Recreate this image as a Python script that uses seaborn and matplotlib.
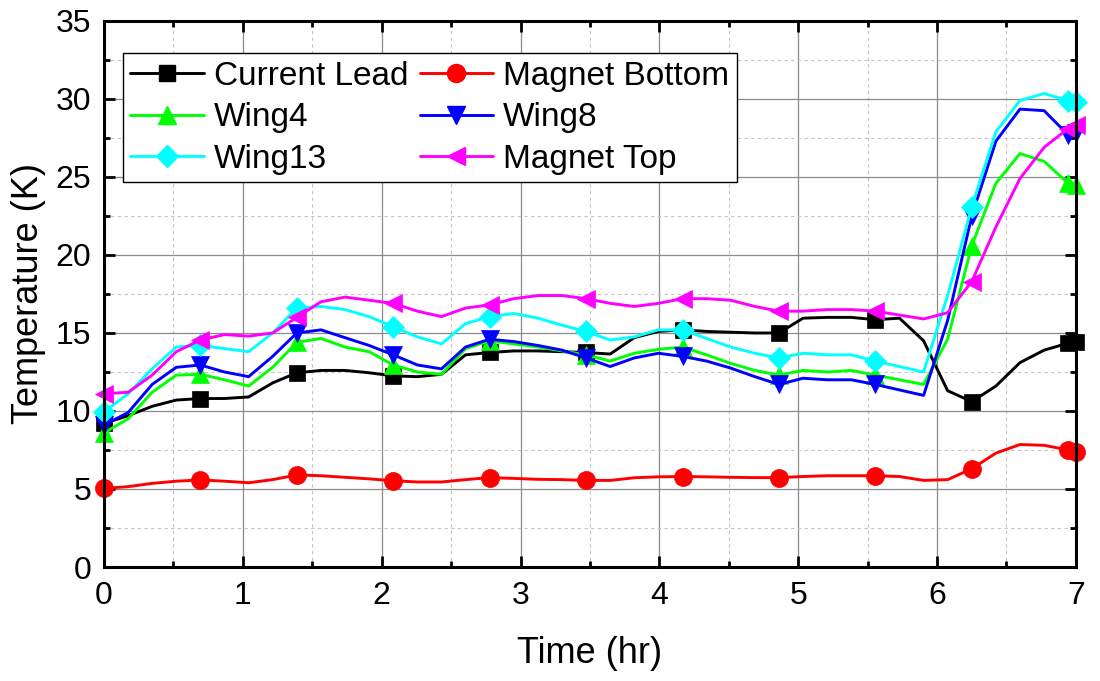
import matplotlib
matplotlib.use("Agg")
import matplotlib.pyplot as plt
from matplotlib.lines import Line2D
from matplotlib.ticker import MultipleLocator
import seaborn as sns
import pandas as pd

# ---------------- data ----------------
time_hr = [0.000, 0.174, 0.347, 0.521, 0.694, 0.868, 1.042, 1.215, 1.389, 1.563,
           1.736, 1.910, 2.083, 2.257, 2.431, 2.604, 2.778, 2.951, 3.125, 3.299,
           3.472, 3.646, 3.819, 3.993, 4.167, 4.340, 4.514, 4.688, 4.861, 5.035,
           5.208, 5.382, 5.556, 5.729, 5.903, 6.076, 6.250, 6.424, 6.597, 6.771,
           6.944, 7.000]

current_lead = [9.2, 9.7, 10.3, 10.7, 10.8, 10.8, 10.9, 11.8, 12.45, 12.6,
                12.6, 12.45, 12.25, 12.2, 12.35, 13.6, 13.75, 13.85, 13.85, 13.8,
                13.75, 13.65, 14.7, 15.1, 15.2, 15.1, 15.05, 15.0, 15.0, 15.95,
                16.0, 16.0, 15.85, 15.95, 14.5, 11.3, 10.6, 11.6, 13.1, 13.9,
                14.35, 14.4]
magnet_bottom = [5.04, 5.15, 5.36, 5.5, 5.58, 5.5, 5.4, 5.6, 5.9, 5.85,
                 5.75, 5.65, 5.53, 5.45, 5.45, 5.6, 5.73, 5.68, 5.62, 5.6,
                 5.55, 5.55, 5.72, 5.78, 5.8, 5.78, 5.75, 5.73, 5.73, 5.8,
                 5.85, 5.85, 5.85, 5.8, 5.55, 5.6, 6.3, 7.3, 7.85, 7.8,
                 7.5, 7.4]
wing4 = [8.6, 9.5, 11.2, 12.3, 12.35, 12.0, 11.6, 12.8, 14.4, 14.65,
         14.1, 13.8, 12.95, 12.5, 12.35, 14.0, 14.5, 14.3, 14.1, 13.85,
         13.6, 13.2, 13.7, 13.95, 14.1, 13.6, 13.05, 12.6, 12.3, 12.6,
         12.5, 12.6, 12.3, 12.0, 11.7, 14.6, 20.6, 24.6, 26.5, 26.0,
         24.6, 24.5]
wing8 = [9.1, 9.9, 11.7, 12.8, 12.95, 12.5, 12.2, 13.5, 15.0, 15.2,
         14.7, 14.2, 13.6, 12.95, 12.7, 14.1, 14.6, 14.45, 14.2, 13.9,
         13.4, 12.85, 13.4, 13.7, 13.5, 13.2, 12.75, 12.2, 11.7, 12.1,
         12.0, 12.0, 11.7, 11.35, 11.0, 15.8, 22.5, 27.3, 29.35, 29.25,
         27.7, 27.8]
wing13 = [9.95, 11.1, 12.7, 14.1, 14.2, 14.0, 13.8, 15.0, 16.6, 16.7,
          16.5, 16.05, 15.4, 14.75, 14.3, 15.6, 16.05, 16.25, 15.95, 15.5,
          15.1, 14.55, 14.75, 15.2, 15.2, 14.65, 14.1, 13.7, 13.4, 13.7,
          13.6, 13.6, 13.2, 12.85, 12.5, 17.4, 23.1, 27.9, 29.9, 30.35,
          29.9, 29.8]
magnet_top = [11.1, 11.2, 12.3, 13.8, 14.55, 14.9, 14.8, 15.0, 16.0, 17.0,
              17.3, 17.1, 16.9, 16.4, 16.05, 16.6, 16.8, 17.2, 17.4, 17.4,
              17.2, 16.9, 16.7, 16.9, 17.2, 17.2, 17.1, 16.7, 16.4, 16.4,
              16.5, 16.5, 16.4, 16.15, 15.9, 16.3, 18.3, 21.8, 24.9, 26.9,
              28.1, 28.3]

series_names = ["Current Lead", "Magnet Bottom", "Wing4", "Wing8", "Wing13", "Magnet Top"]
# indices of the samples that carry a marker
marker_idx = [0, 4, 8, 12, 16, 20, 24, 28, 32, 36, 40, 41]

# ---------------- styles ----------------
colors = {"Current Lead": "#000000", "Magnet Bottom": "#FF0000", "Wing4": "#00FF00",
          "Wing8": "#0000FF", "Wing13": "#00FFFF", "Magnet Top": "#FF00FF"}
marker_map = {"Current Lead": "s", "Magnet Bottom": "o", "Wing4": "^",
              "Wing8": "v", "Wing13": "D", "Magnet Top": "<"}
marker_sizes = {"Current Lead": 12, "Magnet Bottom": 13, "Wing4": 13,
                "Wing8": 13, "Wing13": 11, "Magnet Top": 13}

sns.set_style("ticks")
plt.rcParams["font.family"] = ["Liberation Sans", "DejaVu Sans"]
plt.rcParams["text.color"] = "black"
plt.rcParams["axes.labelcolor"] = "black"
plt.rcParams["xtick.color"] = "black"
plt.rcParams["ytick.color"] = "black"

df = pd.DataFrame({"Time": time_hr, "Current Lead": current_lead,
                   "Magnet Bottom": magnet_bottom, "Wing4": wing4, "Wing8": wing8,
                   "Wing13": wing13, "Magnet Top": magnet_top})
long_df = df.melt(id_vars="Time", var_name="Sensor", value_name="Temperature")

fig = plt.figure(figsize=(11, 6.81), dpi=100)
ax = fig.add_axes([0.0945, 0.1674, 0.8836, 0.8018])

sns.lineplot(data=long_df, x="Time", y="Temperature", hue="Sensor", style="Sensor",
             hue_order=series_names, style_order=series_names, palette=colors,
             markers=marker_map, dashes=False, estimator=None, sort=True,
             markevery=marker_idx, linewidth=2.1, markersize=12,
             legend=False, ax=ax)

for line, name in zip(ax.lines, series_names):
    line.set_markeredgecolor(colors[name])
    line.set_markerfacecolor(colors[name])
    line.set_markersize(marker_sizes[name])
    line.set_markeredgewidth(0.5)
    line.set_clip_on(False)

ax.set_xlim(0, 7)
ax.set_ylim(0, 35)
ax.xaxis.set_major_locator(MultipleLocator(1))
ax.xaxis.set_minor_locator(MultipleLocator(0.5))
ax.yaxis.set_major_locator(MultipleLocator(5))
ax.yaxis.set_minor_locator(MultipleLocator(2.5))

ax.set_axisbelow(True)
ax.grid(which="major", color="#8a8a8a", linewidth=0.9, linestyle="-")
ax.grid(which="minor", color="#c4c4c4", linewidth=0.8, linestyle=(0, (3, 3)))

ax.tick_params(which="both", direction="in", top=True, right=True,
               labeltop=False, labelright=False, width=2.0, color="black",
               labelcolor="black")
ax.tick_params(which="major", length=8, labelsize=23)
ax.tick_params(axis="x", which="major", pad=10)
ax.tick_params(axis="y", which="major", pad=9)
ax.tick_params(which="minor", length=4)
for sp in ax.spines.values():
    sp.set_linewidth(2.2)
    sp.set_color("black")
    sp.set_visible(True)

ax.set_xlabel("Time (hr)", fontsize=26, labelpad=18, color="black")
ax.set_ylabel("Temperature (K)", fontsize=26, labelpad=7, color="black")

# legend, row-wise order like the reference (matplotlib fills columns first)
legend_order = ["Current Lead", "Wing4", "Wing13", "Magnet Bottom", "Wing8", "Magnet Top"]
handles = [Line2D([], [], color=colors[n], marker=marker_map[n], lw=2.1,
                  markersize=marker_sizes[n], markeredgecolor=colors[n])
           for n in legend_order]
leg = ax.legend(handles, legend_order, ncol=2, loc="upper left",
                bbox_to_anchor=(0.0195, 0.941), borderaxespad=0, fontsize=24,
                frameon=True, fancybox=False, framealpha=1, edgecolor="black",
                handlelength=2.2, handletextpad=0.3, columnspacing=0.35,
                labelspacing=0.32, borderpad=0.22, numpoints=1)
leg.get_frame().set_linewidth(1.0)
for t in leg.get_texts():
    t.set_color("black")

fig.savefig("out.png", dpi=100)
